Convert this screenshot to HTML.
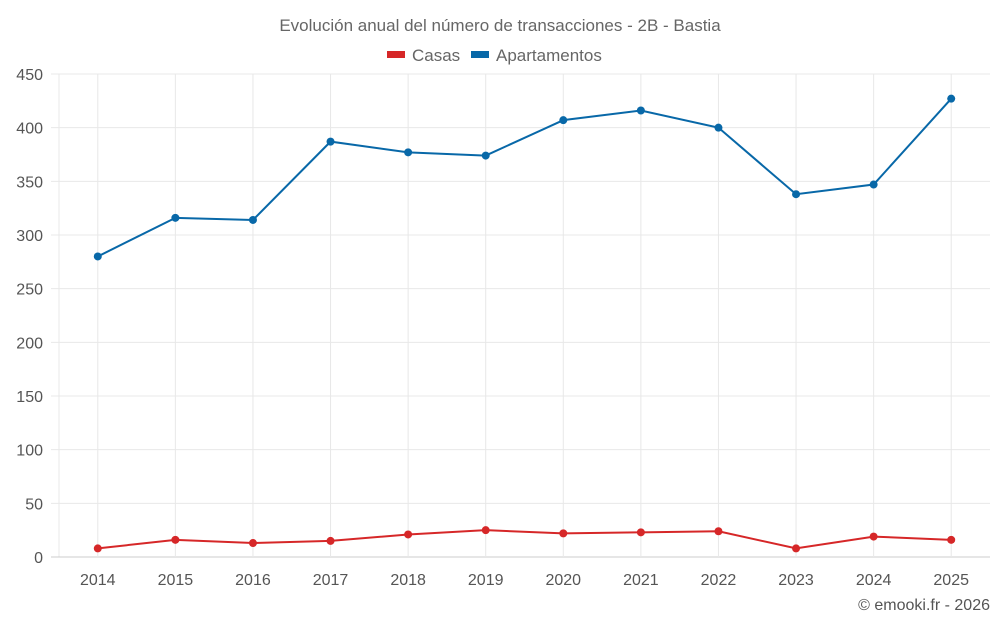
<!DOCTYPE html>
<html><head><meta charset="utf-8"><style>
body{margin:0;background:#fff;font-family:"Liberation Sans",sans-serif}
</style></head><body>
<svg id="c" width="1000" height="625" xmlns="http://www.w3.org/2000/svg">
<text x="500" y="31" text-anchor="middle" font-size="17" fill="#666">Evolución anual del número de transacciones - 2B - Bastia</text>
<g><rect x="387" y="51" width="18" height="7" fill="#d62728"/><text x="412" y="61" font-size="17" fill="#666">Casas</text></g>
<g><rect x="471" y="51" width="18" height="7" fill="#0868a8"/><text x="496" y="61" font-size="17" fill="#666">Apartamentos</text></g>
<g id="grid"></g><g id="axes"></g><g id="series"></g>
<text x="990" y="610" text-anchor="end" font-size="16" fill="#555">© emooki.fr - 2026</text>
</svg>
<script>
const years=["2014","2015","2016","2017","2018","2019","2020","2021","2022","2023","2024","2025"];
const casas=[8,16,13,15,21,25,22,23,24,8,19,16];
const apartamentos=[280,316,314,387,377,374,407,416,400,338,347,427];
const yTicks=[0,50,100,150,200,250,300,350,400,450];
const NS="http://www.w3.org/2000/svg";
const L=59,R=990,T=74,B=557,yMax=450;
const band=(R-L)/years.length;
const x=i=>L+band*(i+0.5);
const y=v=>B-(v/yMax)*(B-T);
function mk(t,a,p){const e=document.createElementNS(NS,t);for(const k in a)e.setAttribute(k,a[k]);p.appendChild(e);return e;}
const grid=document.getElementById('grid'),axes=document.getElementById('axes'),ser=document.getElementById('series');
const edge=mk('line',{x1:L,x2:L,y1:T,y2:B,stroke:'#e8e8e8'},grid);


yTicks.forEach(v=>{
 const l=mk('line',{x1:L-8,x2:R,y1:y(v),y2:y(v),stroke:v===0?'#ccc':'#e8e8e8'},grid);
 
 
 const t=mk('text',{x:L-16,y:y(v)+6,'text-anchor':'end','font-size':16,fill:'#555'},axes);
 t.textContent=v;
 
 
});
years.forEach((yr,i)=>{
 const l=mk('line',{x1:x(i),x2:x(i),y1:T,y2:B,stroke:'#e8e8e8'},grid);
 
 
 const t=mk('text',{x:x(i),y:585,'text-anchor':'middle','font-size':16,fill:'#555'},axes);
 t.textContent=yr;
 
 
});
[[apartamentos,'#0868a8','apartamentos'],[casas,'#d62728','casas']].forEach(([d,c,n])=>{
 const p=mk('polyline',{points:d.map((v,i)=>x(i)+','+y(v)).join(' '),fill:'none',stroke:c,'stroke-width':2},ser);
 
 
 d.forEach((v,i)=>{
  const ci=mk('circle',{cx:x(i),cy:y(v),r:4,fill:c},ser);
  
  
 });
});
</script>
</body></html>
